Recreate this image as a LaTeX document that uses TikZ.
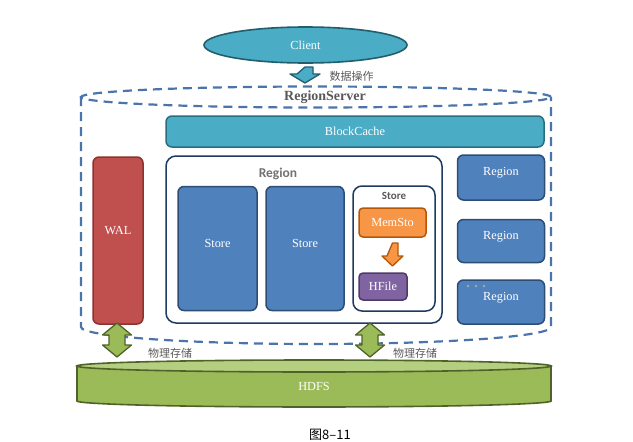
\documentclass[tikz,border=0pt]{standalone}
\usepackage{fontspec}
\setmainfont{Liberation Serif}
\setsansfont{Carlito}
\newfontfamily\cjk{Noto Sans CJK SC}
\usetikzlibrary{shapes.geometric}
\definecolor{tealF}{HTML}{4BACC6}
\definecolor{tealD}{HTML}{215E6E}
\definecolor{blueF}{HTML}{4F81BD}
\definecolor{blueD}{HTML}{2C4D75}
\definecolor{redF}{HTML}{C0504D}
\definecolor{redD}{HTML}{8C3330}
\definecolor{orF}{HTML}{F79646}
\definecolor{orD}{HTML}{B65708}
\definecolor{puF}{HTML}{8064A2}
\definecolor{puD}{HTML}{4E3B66}
\definecolor{grF}{HTML}{9BBB59}
\definecolor{grL}{HTML}{B5CF80}
\definecolor{grD}{HTML}{4F6228}
\definecolor{navy}{HTML}{1F3A5F}
\definecolor{dashc}{HTML}{4B74AA}
\definecolor{txtg}{HTML}{595959}
\tikzset{
  lbl/.style={text=white,font=\fontsize{12.3}{14}\selectfont},
  box/.style={draw,line width=1.5pt,rounded corners=6pt,inner sep=0pt,lbl},
  bluebox/.style={box,fill=blueF,draw=blueD},
  whitebox/.style={draw=navy,fill=white,line width=1.5pt,rounded corners=10pt,inner sep=0pt},
  dsh/.style={draw=dashc,line width=2.2pt,dash pattern=on 9pt off 6pt},
  cjklbl/.style={text=txtg,font=\cjk\fontsize{11}{13}\selectfont},
  garrow/.style={fill=grF,draw=grD,line width=1.3pt,line join=round},
  dbl/.pic={\path[garrow] (0,-17) -- (14.5,-5) -- (8,-5) -- (8,5) -- (14.5,5) -- (0,17)
     -- (-14.5,5) -- (-8,5) -- (-8,-5) -- (-14.5,-5) -- cycle;}
}
\begin{document}
\begin{tikzpicture}[x=1pt,y=-1pt]
\useasboundingbox (0,0) rectangle (633,442);
% Client
\node[ellipse,fill=tealF,draw=tealD,line width=1.6pt,minimum width=203pt,minimum height=36pt,inner sep=0pt,lbl] (client) at (305.5,45) {Client};
\coordinate (cdown) at (305,67);
\path[fill=tealF,draw=tealD,line width=1.3pt,line join=round] (cdown) -- ++(8,0) -- ++(0,7) -- ++(7,0) -- ++(-15,9) -- ++(-15,-9) -- ++(7,0) -- cycle;
\node[cjklbl,anchor=west] (op) at (326,76) {数据操作};
% RegionServer dashed cylinder
\draw[dsh] (316,97) ellipse [x radius=235pt,y radius=10.5pt];
\draw[dsh] (81,97) -- (81,327) arc[start angle=180,end angle=360,x radius=235pt,y radius=17pt] -- (551,97);
\node[text=txtg,font=\bfseries\fontsize{14}{16}\selectfont] (rs) at (325,97.5) {RegionServer};
% BlockCache
\node[box,fill=tealF,draw=tealD!80!tealF,minimum width=378pt,minimum height=31pt] (bc) at (355,131.5) {BlockCache};
% WAL
\node[box,fill=redF,draw=redD,minimum width=50pt,minimum height=167pt] (wal) at (118,240.5) {};
\node[lbl] (wall) at (118,231) {WAL};
% Region big box
\node[whitebox,minimum width=276pt,minimum height=167pt] (region) at (304,239.5) {};
\node[text=txtg!85!white,font=\sffamily\bfseries\fontsize{13.5}{15}\selectfont] (regl) at (278,174) {Region};
\node[bluebox,minimum width=79pt,minimum height=124pt] (s1) at (217.5,248.5) {};
\node[lbl] (s1l) at (217.5,243) {Store};
\node[bluebox,minimum width=78pt,minimum height=124pt] (s2) at (305,248.5) {};
\node[lbl] (s2l) at (305,243) {Store};
\node[whitebox,rounded corners=9pt,minimum width=82pt,minimum height=125pt] (st) at (394,248.5) {};
\node[text=txtg,font=\sffamily\bfseries\fontsize{11}{13}\selectfont] (stl) at (394,196) {Store};
\node[box,fill=orF,draw=orD,rounded corners=4pt,minimum width=67pt,minimum height=29pt] (mem) at (392.5,222.5) {MemSto};
\node[box,fill=puF,draw=puD,rounded corners=4pt,minimum width=48pt,minimum height=27pt] (hf) at (383,286.5) {HFile};
\coordinate (odown) at (392.5,243);
\path[fill=orF,draw=orD,line width=1.3pt,line join=round] (odown) -- ++(5.5,0) -- ++(0,13) -- ++(5,0) -- ++(-10.5,10) -- ++(-10.5,-10) -- ++(5,0) -- cycle;
% right regions
\node[bluebox,minimum width=87pt,minimum height=45pt] (r1) at (501,177.5) {};
\node[lbl] (r1l) at (501,172.5) {Region};
\node[bluebox,minimum width=87pt,minimum height=43pt] (r2) at (501,241) {};
\node[lbl] (r2l) at (501,237) {Region};
\node[bluebox,minimum width=87pt,minimum height=44pt] (r3) at (501,302) {};
\node[lbl] (r3l) at (501,298) {Region};
\foreach \dx in {0,8,16} \fill[gray!70] (468+\dx,286) circle[radius=1.3pt];
% HDFS cylinder
\path[fill=grF,draw=grD,line width=1.6pt] (77,366) -- (77,401) arc[start angle=180,end angle=360,x radius=237pt,y radius=6pt] -- (551,366) -- cycle;
\path[fill=grL,draw=grD,line width=1.6pt] (314,366) ellipse [x radius=237pt,y radius=6pt];
\node[lbl] (hdfs) at (314,386) {HDFS};
% storage arrows
\pic at (117,340) {dbl};
\pic at (370,340) {dbl};
\node[cjklbl] (ps1) at (170,353) {物理存储};
\node[cjklbl] (ps2) at (415,353) {物理存储};
% caption
\node[font=\cjk\fontsize{13}{15}\selectfont] (cap) at (330,434.5) {图8–11};
\end{tikzpicture}
\end{document}
